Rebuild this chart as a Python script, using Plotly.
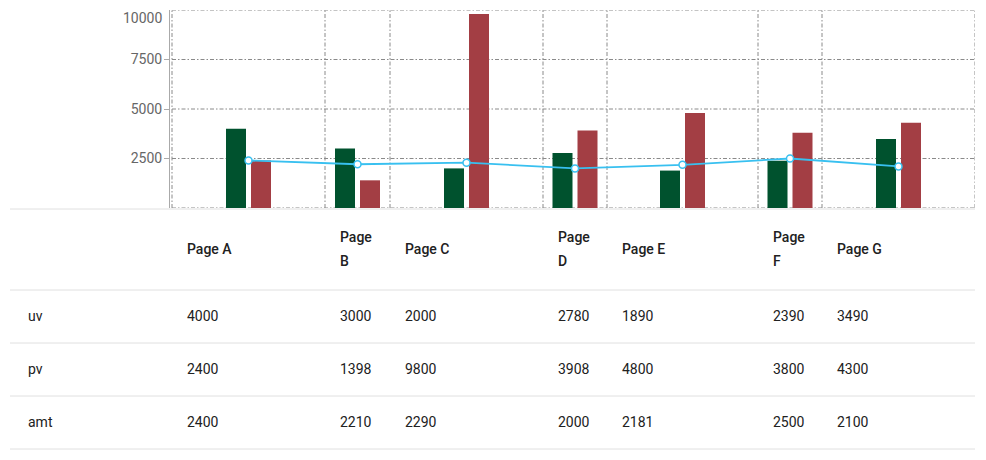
import plotly.graph_objects as go

# ---- data ----
pages = ["Page A", "Page B", "Page C", "Page D", "Page E", "Page F", "Page G"]
uv = [4000, 3000, 2000, 2780, 1890, 2390, 3490]
pv = [2400, 1398, 9800, 3908, 4800, 3800, 4300]
amt = [2400, 2210, 2290, 2000, 2181, 2500, 2100]
series_names = ["uv", "pv", "amt"]
y_ticks = [2500, 5000, 7500, 10000]

# ---- layout constants (pixels) ----
W, H = 986, 460
TABLE_LEFT = 10
COL_W = [162, 153, 65, 153, 64, 151, 64, 153]  # label column + one per page
PLOT_L, PLOT_R, PLOT_T, PLOT_B = 170, 975, 10, 208
HEADER_BOTTOM = 290
ROW_H = 53
BAR_W = 20
BAR_OFF = 12.5
FS = 14

GREEN = "#00522e"
RED = "#a33e44"
BLUE = "#38c0f0"
GRID = "#8a8a8a"
TXT = "#212121"
DASH = "4px,2px,1.5px,2px"

bounds = [TABLE_LEFT]
for w in COL_W:
    bounds.append(bounds[-1] + w)
col_left = bounds[1:-1]
col_right = bounds[2:]
centers = [(a + b) / 2 for a, b in zip(col_left, col_right)]


def px_x(px):
    return (px - PLOT_L) / (PLOT_R - PLOT_L)


def px_y(py):
    return (PLOT_B - py) / (PLOT_B - PLOT_T)


fig = go.Figure()
fig.add_trace(go.Bar(x=[c - BAR_OFF for c in centers], y=uv, width=BAR_W, name="uv",
                     marker=dict(color=GREEN, line=dict(width=0))))
fig.add_trace(go.Bar(x=[c + BAR_OFF for c in centers], y=pv, width=BAR_W, name="pv",
                     marker=dict(color=RED, line=dict(width=0))))
fig.add_trace(go.Scatter(x=centers, y=amt, name="amt", mode="lines+markers",
                         line=dict(color=BLUE, width=1.8),
                         marker=dict(symbol="circle", size=7, color="white",
                                     line=dict(color=BLUE, width=1.5))))

shapes = []
# horizontal grid lines
for v in [0] + y_ticks:
    shapes.append(dict(type="line", xref="paper", yref="y", x0=px_x(172), x1=1, y0=v, y1=v,
                       line=dict(color=GRID, width=1, dash=DASH), layer="below"))
# vertical grid lines at column boundaries
for b in bounds[1:]:
    shapes.append(dict(type="line", xref="x", yref="paper", x0=b, x1=b, y0=0, y1=1,
                       line=dict(color=GRID, width=1, dash=DASH), layer="below"))
# table row lines
for py in [209, HEADER_BOTTOM, HEADER_BOTTOM + ROW_H, HEADER_BOTTOM + 2 * ROW_H, HEADER_BOTTOM + 3 * ROW_H]:
    shapes.append(dict(type="line", xref="paper", yref="paper", x0=px_x(TABLE_LEFT), x1=px_x(975),
                       y0=px_y(py), y1=px_y(py), line=dict(color="#e0e0e0", width=1)))

annotations = []
# top tick label (shifted inside)
annotations.append(dict(text="10000", xref="paper", yref="y", x=0, y=10000, xanchor="right",
                        yanchor="middle", xshift=-6, yshift=-8, showarrow=False,
                        font=dict(family="Roboto", size=FS, color="#666")))
# header
header_mid = (209 + HEADER_BOTTOM) / 2 - 1
for p, l, r in zip(pages, col_left, col_right):
    words = p.split(" ")
    lines = words if (r - l) < 100 else [p]
    n = len(lines)
    for i, t in enumerate(lines):
        py = header_mid + (i - (n - 1) / 2) * 24
        annotations.append(dict(text=t, xref="paper", yref="paper", x=px_x(l + 13), y=px_y(py),
                                xanchor="left", yanchor="middle", showarrow=False,
                                font=dict(family="Roboto", size=FS, color=TXT, weight=500)))
# body rows
for ri, (name, vals) in enumerate(zip(series_names, [uv, pv, amt])):
    py = HEADER_BOTTOM + ROW_H * ri + ROW_H / 2 - 1
    annotations.append(dict(text=name, xref="paper", yref="paper", x=px_x(TABLE_LEFT + 16), y=px_y(py),
                            xanchor="left", yanchor="middle", showarrow=False,
                            font=dict(family="Roboto", size=FS, color=TXT)))
    for v, l in zip(vals, col_left):
        annotations.append(dict(text=str(v), xref="paper", yref="paper", x=px_x(l + 13), y=px_y(py),
                                xanchor="left", yanchor="middle", showarrow=False,
                                font=dict(family="Roboto", size=FS, color=TXT)))

fig.update_layout(
    width=W, height=H,
    margin=dict(l=PLOT_L, r=W - PLOT_R, t=PLOT_T, b=H - PLOT_B),
    paper_bgcolor="white", plot_bgcolor="white",
    barmode="overlay", showlegend=False,
    xaxis=dict(range=[PLOT_L, PLOT_R], showgrid=False, zeroline=False, showticklabels=False,
               showline=False, ticks=""),
    yaxis=dict(range=[0, 10000], tickvals=y_ticks[:-1], showgrid=False, zeroline=False,
               showline=True, linecolor="#aaaaaa", linewidth=1, ticks="outside", ticklen=5,
               tickcolor="#aaaaaa", ticklabelstandoff=-1,
               tickfont=dict(family="Roboto", size=FS, color="#666")),
    shapes=shapes, annotations=annotations,
    font=dict(family="Roboto"),
)

fig.write_html("out.html")
